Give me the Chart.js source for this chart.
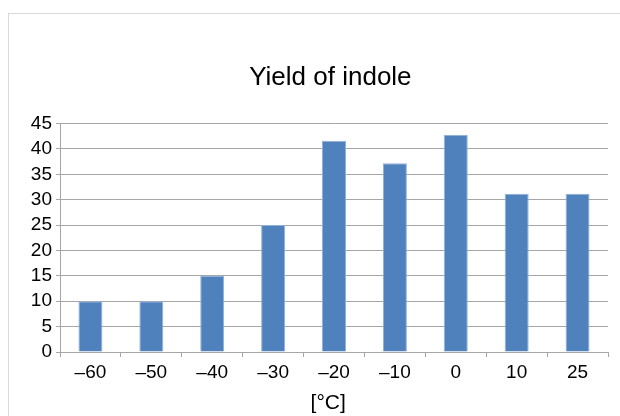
<!DOCTYPE html>
<html>
<head>
<meta charset="utf-8">
<script src="https://cdn.jsdelivr.net/npm/chart.js@4"></script>
<style>
  body { margin: 0; background: #fff; }
  #wrap { position: relative; width: 620px; height: 416px; }
  #frame { position: absolute; left: 8px; top: 13px; right: 0; bottom: 0;
           border-top: 1px solid #d9d9d9; border-left: 1px solid #d9d9d9; }
  canvas { position: absolute; left: 0; top: 0; }
</style>
</head>
<body>
<div id="wrap">
  <div id="frame"></div>
  <canvas id="yieldChart" width="620" height="416"></canvas>
</div>
<script>
// Temperature categories and yields
const temperatures = ['–60', '–50', '–40', '–30', '–20', '–10', '0', '10', '25'];
const yields = [10, 10, 15, 25, 41.6, 37.2, 42.8, 31.2, 31.2];
const yMax = 45;
const yStep = 5;

const gridGray = '#a6a6a6';

const ctx = document.getElementById('yieldChart').getContext('2d');
new Chart(ctx, {
    type: 'bar',
    data: {
        labels: temperatures,
        datasets: [{
            label: 'Yield',
            data: yields,
            backgroundColor: '#4f81bd',
            borderColor: '#8fb0d8',
            borderWidth: 1,
            barPercentage: 0.394,
            categoryPercentage: 1
        }]
    },
    options: {
        responsive: false,
        animation: false,
        layout: { padding: { left: 22, right: 12, top: 0, bottom: 0 } },
        plugins: {
            legend: { display: false },
            tooltip: { enabled: false },
            title: {
                display: true,
                fullSize: false,   // centre over the plot area, not the canvas
                text: 'Yield of indole ',
                color: '#000',
                font: { family: 'Liberation Sans', size: 26, weight: 'normal' },
                padding: { top: 62, bottom: 30.4 }
            }
        },
        scales: {
            x: {
                afterFit: s => { s.height = 64; },
                grid: { drawOnChartArea: false, drawTicks: true, tickLength: 5, color: gridGray },
                border: { color: gridGray },
                ticks: { autoSkip: false, maxRotation: 0, color: '#000', padding: 4, font: { family: 'Liberation Sans', size: 19 } },
                title: {
                    display: true,
                    text: '[°C]  ',
                    color: '#000',
                    font: { family: 'Liberation Sans', size: 21 },
                    padding: 0
                }
            },
            y: {
                min: 0,
                max: yMax,
                afterFit: s => { s.width = 38; },
                grid: { color: gridGray, tickLength: 4 },
                border: { color: gridGray },
                ticks: { autoSkip: false, stepSize: yStep, color: '#000', padding: 4, font: { family: 'Liberation Sans', size: 19 } }
            }
        }
    }
});
</script>
</body>
</html>
